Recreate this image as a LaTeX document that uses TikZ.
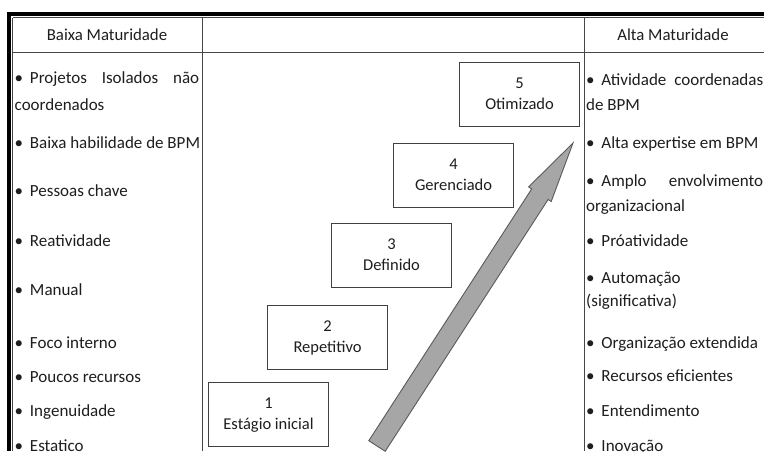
\documentclass[tikz,border=0pt]{standalone}
\usepackage{fontspec}
\setmainfont{Carlito}
\newcommand\blt{\char"2022\hspace{6.8pt}}
\definecolor{boxgray}{RGB}{64,64,64}
\definecolor{linegray}{RGB}{70,70,70}
\definecolor{arrowfill}{RGB}{166,166,166}
\definecolor{arrowline}{RGB}{90,90,90}
\definecolor{txtcol}{RGB}{30,30,30}
\begin{document}
\begin{tikzpicture}[x=1pt,y=-1pt,
  txt/.style={anchor=base west,inner sep=0pt,text=txtcol,font=\fontsize{17}{20}\selectfont},
  hdr/.style={anchor=base,inner sep=0pt,text=txtcol,font=\fontsize{16.8}{20}\selectfont},
  stage/.style={draw=boxgray,line width=1.1pt,minimum width=120pt,minimum height=64pt,inner sep=0pt,anchor=north west},
  stagetxt/.style={anchor=base,inner sep=0pt,text=txtcol,font=\fontsize{16.5}{20}\selectfont},
  thinrule/.style={draw=linegray,line width=1pt},
  thickrule/.style={draw=black,line width=3.6pt},
  bigarrow/.style={fill=arrowfill,draw=arrowline,line width=0.9pt,line join=miter}
]
\useasboundingbox (0,0) rectangle (764,451);
\fill[white] (0,0) rectangle (764,451);

% table rules
\draw[thickrule] (7.4,14) -- (764,14);
\draw[thickrule] (9.2,12.2) -- (9.2,451);
\draw[thinrule] (12.5,17.5) -- (764,17.5);
\draw[thinrule] (12.5,17.5) -- (12.5,451);
\draw[thinrule] (12.5,52) -- (764,52);
\draw[thinrule] (202,17.5) -- (202,451);
\draw[thinrule] (584,17.5) -- (584,451);

% headers
\node[hdr] (hleft) at (107,40.5) {Baixa Maturidade};
\node[hdr] (hright) at (673,40.5) {Alta Maturidade};

% left column
\node[txt] (l1)  at (14.5,83.5) {\makebox[184.5pt][s]{\blt Projetos Isolados não}};
\node[txt] (l1b) at (14.5,110) {coordenados};
\node[txt] (l2)  at (14.5,148) {\blt Baixa habilidade de BPM};
\node[txt] (l3)  at (14.5,196.5) {\blt Pessoas chave};
\node[txt] (l4)  at (14.5,246.7) {\blt Reatividade};
\node[txt] (l5)  at (14.5,295) {\blt Manual};
\node[txt] (l6)  at (14.5,348.3) {\blt Foco interno};
\node[txt] (l7)  at (14.5,382.6) {\blt Poucos recursos};
\node[txt] (l8)  at (14.5,416.7) {\blt Ingenuidade};
\node[txt] (l9)  at (14.5,451) {\blt Estatico};

% right column
\node[txt] (r1)  at (586,85) {\makebox[177pt][s]{\blt Atividade coordenadas}};
\node[txt] (r1b) at (586,110) {de BPM};
\node[txt] (r2)  at (586,148) {\blt Alta expertise em BPM};
\node[txt] (r3)  at (586,186.7) {\makebox[177pt][s]{\blt Amplo envolvimento}};
\node[txt] (r3b) at (586,211.7) {organizacional};
\node[txt] (r4)  at (586,246.7) {\blt Próatividade};
\node[txt] (r5)  at (586,283) {\blt Automação};
\node[txt] (r5b) at (586,306.5) {(significativa)};
\node[txt] (r6)  at (586,348) {\blt Organização extendida};
\node[txt] (r7)  at (586,381.7) {\blt Recursos eficientes};
\node[txt] (r8)  at (586,416.7) {\blt Entendimento};
\node[txt] (r9)  at (586,451.5) {\blt Inovação};

% arrow
\filldraw[bigarrow] (368.8,440.7) -- (531.7,188.9) -- (528.6,186.9) -- (573,143)
  -- (551.2,201.5) -- (548.1,199.5) -- (385.2,451.3) -- cycle;

% stages
\node[stage] (s1) at (208,382) {};
\node[stage] (s2) at (267,305) {};
\node[stage] (s3) at (331,223) {};
\node[stage] (s4) at (393,143) {};
\node[stage] (s5) at (459,62) {};

\node[stagetxt] (s1n) at ([yshift=-26.5pt]s1.north) {1};
\node[stagetxt] (s1t) at ([yshift=-47pt]s1.north) {Estágio inicial};
\node[stagetxt] (s2n) at ([yshift=-26.5pt]s2.north) {2};
\node[stagetxt] (s2t) at ([yshift=-47pt]s2.north) {Repetitivo};
\node[stagetxt] (s3n) at ([yshift=-26.5pt]s3.north) {3};
\node[stagetxt] (s3t) at ([yshift=-47pt]s3.north) {Definido};
\node[stagetxt] (s4n) at ([yshift=-26.5pt]s4.north) {4};
\node[stagetxt] (s4t) at ([yshift=-47pt]s4.north) {Gerenciado};
\node[stagetxt] (s5n) at ([yshift=-26.5pt]s5.north) {5};
\node[stagetxt] (s5t) at ([yshift=-47pt]s5.north) {Otimizado};
\end{tikzpicture}
\end{document}
